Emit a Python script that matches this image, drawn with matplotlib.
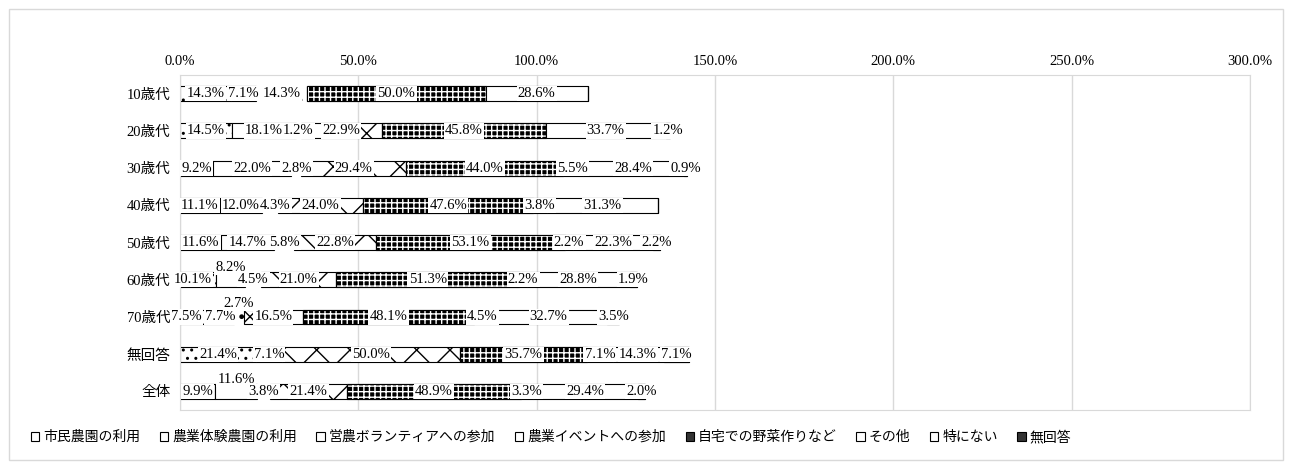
import numpy as np
import matplotlib.pyplot as plt
from matplotlib.patches import Patch, Rectangle

plt.rcParams['font.family'] = ['Liberation Serif', 'Noto Sans CJK JP']
plt.rcParams['hatch.linewidth'] = 1.0

categories = ['10歳代', '20歳代', '30歳代', '40歳代', '50歳代', '60歳代', '70歳代', '無回答', '全体']
series = ['市民農園の利用', '農業体験農園の利用', '営農ボランティアへの参加', '農業イベントへの参加',
          '自宅での野菜作りなど', 'その他', '特にない', '無回答']

shimin = [14.3, 14.5, 9.2, 11.1, 11.6, 10.1, 7.5, 21.4, 9.9]
taiken = [7.1, 18.1, 22.0, 12.0, 14.7, 8.2, 7.7, 7.1, 11.6]
eino = [14.3, 1.2, 2.8, 4.3, 5.8, 4.5, 2.7, 0, 3.8]
event = [0, 22.9, 29.4, 24.0, 22.8, 21.0, 16.5, 50.0, 21.4]
jitaku = [50.0, 45.8, 44.0, 47.6, 53.1, 51.3, 48.1, 35.7, 48.9]
sonota = [0, 0, 5.5, 3.8, 2.2, 2.2, 4.5, 7.1, 3.3]
tokuni = [28.6, 33.7, 28.4, 31.3, 22.3, 28.8, 32.7, 14.3, 29.4]
mukaitou = [0, 1.2, 0.9, 0, 2.2, 1.9, 3.5, 7.1, 2.0]

values = [shimin, taiken, eino, event, jitaku, sonota, tokuni, mukaitou]

# (face, hatch, edge width, checker overlay)
styles = [
    ('white', '..', 0.8, False),
    ('white', '', 0.8, False),
    ('white', '.', 0.0, False),
    ('white', 'x', 0.8, False),
    ('black', '', 0.8, True),
    ('white', '', 0.8, False),
    ('white', '', 0.8, False),
    ('black', '', 0.8, True),
]

# labels that were pushed away from their segment in the original (dx in %, dy in rows)
label_shift = {
    (3, 2): (1.5, 0),
    (5, 0): (-1.5, 0), (5, 1): (0, -0.32),
    (6, 0): (-2, 0), (6, 2): (0, -0.36),
    (8, 1): (0, -0.32),
}

fig = plt.figure(figsize=(12.92, 4.68), dpi=100)
ax = fig.add_axes([180 / 1292, 1 - 410 / 468, 1070 / 1292, 335 / 468])

y = np.arange(len(categories))
left = np.zeros(len(categories))
bar_h = 0.4

for s, vals in enumerate(values):
    vals = np.array(vals)
    face, hatch, lw, checker = styles[s]
    ax.barh(y, vals, left=left, height=bar_h, color=face, edgecolor='black',
            hatch=hatch, linewidth=lw, zorder=2)
    if checker:
        ax.barh(y, vals, left=left, height=bar_h, color='none', edgecolor='white',
                hatch='+++', linewidth=0, zorder=2)
        ax.barh(y, vals, left=left, height=bar_h, color='none', edgecolor='black',
                linewidth=lw, zorder=2)
    for i, v in enumerate(vals):
        if v == 0:
            continue
        dx, dy = label_shift.get((i, s), (0, 0))
        ax.text(left[i] + v / 2 + dx, y[i] + dy, f'{v:.1f}%', ha='center', va='center',
                fontsize=10.5, zorder=3,
                bbox=dict(boxstyle='square,pad=0.08', facecolor='white', edgecolor='none'))
    left += vals

ax.set_xlim(0, 300)
ax.set_ylim(len(categories) - 0.5, -0.5)
ax.set_xticks(np.arange(0, 301, 50))
ax.set_xticklabels([f'{t:.1f}%' for t in np.arange(0, 301, 50)], fontsize=10.5)
ax.xaxis.tick_top()
ax.set_yticks(y)
ax.set_yticklabels(categories, fontsize=10.5)
ax.tick_params(axis='y', length=0, pad=7)
ax.tick_params(axis='x', length=0, pad=5)
ax.grid(axis='x', color='#d9d9d9', linewidth=1, zorder=0)
ax.set_axisbelow(True)
for sp in ax.spines.values():
    sp.set_color('#d9d9d9')

handles = []
for s in range(len(series)):
    face, hatch, lw, checker = styles[s]
    if checker:
        handles.append(Patch(facecolor='#333333', edgecolor='black', linewidth=0.8))
    else:
        handles.append(Patch(facecolor='white', edgecolor='black', linewidth=0.8))
fig.legend(handles, series, loc='center left', bbox_to_anchor=(18 / 1292, 1 - 437 / 468),
           ncol=8, frameon=False, handlelength=0.6, handleheight=0.6, handletextpad=0.3,
           columnspacing=1.4, prop={'family': 'Noto Sans CJK JP', 'size': 10})

fig.patches.append(Rectangle((9 / 1292, 8 / 468), 1274 / 1292, 451 / 468, transform=fig.transFigure,
                             fill=False, edgecolor='#d9d9d9', linewidth=1))

fig.savefig('out.png', dpi=100)
